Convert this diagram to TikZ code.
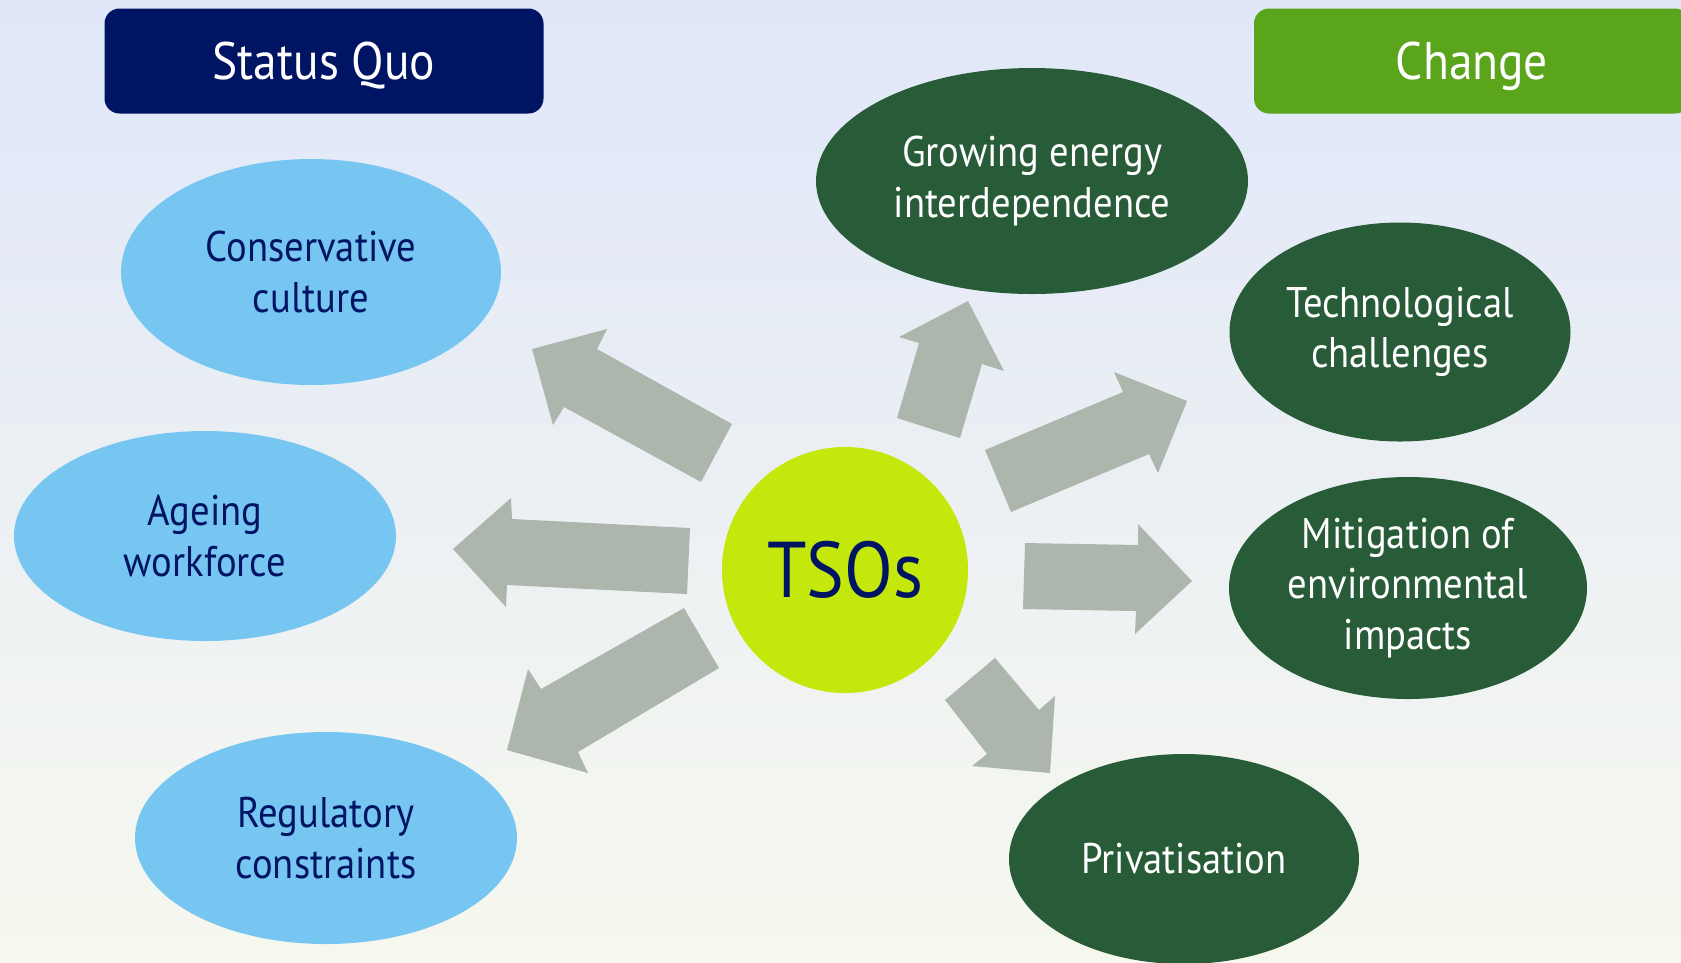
\documentclass[tikz,border=0pt]{standalone}
\usepackage{fontspec}
\setmainfont{PT Sans}[FakeStretch=0.9]
\usetikzlibrary{shapes.geometric}
\definecolor{navy}{HTML}{001464}
\definecolor{skyblue}{HTML}{77C6F1}
\definecolor{forest}{HTML}{285B38}
\definecolor{leaf}{HTML}{5AA51B}
\definecolor{lime}{HTML}{C4E80B}
\definecolor{arrowgray}{HTML}{ADB6AD}
\definecolor{bgtop}{HTML}{E0E7F9}
\definecolor{bgmid}{HTML}{EAF6FE}
\definecolor{bgbot}{HTML}{F6F8EE}
\begin{document}
\begin{tikzpicture}
            [x=0.1mm,y=-0.1mm,
             Blob/.style={ellipse,inner sep=0pt,align=center,font=\fontsize{12.2}{14.4}\selectfont},
             Quo/.style={Blob,fill=skyblue,text=navy},
             Chg/.style={Blob,fill=forest,text=white},
             Title/.style={rounded corners=1.5mm,text=white,minimum height=10.5mm,text height=10.5pt,text depth=0pt,font=\fontsize{15}{18}\selectfont},
             Arrow/.style={fill=arrowgray}];
            % background
            \useasboundingbox (0,0) rectangle (1681,962);
            \shade[top color=bgtop,middle color=bgmid,bottom color=bgbot] (0,0) rectangle (1681,962);
            % headings
            \node[Title,fill=navy,minimum width=43.9mm] (quo) at (324,61){Status Quo};
            \node[Title,fill=leaf,minimum width=43.6mm] (chg) at (1472,61){Change};
            % status quo side
            \node[Quo,minimum width=38mm,minimum height=22.6mm] (cons) at (311,272){Conservative\\culture};
            \node[Quo,minimum width=38.2mm,minimum height=21mm] (age) at (205,536){Ageing\\workforce};
            \node[Quo,minimum width=38.2mm,minimum height=21.2mm] (reg) at (326,838){Regulatory\\constraints};
            % change side
            \node[Chg,minimum width=43.2mm,minimum height=22.6mm] (grow) at (1032,181){Growing energy\\interdependence};
            \node[Chg,minimum width=34.1mm,minimum height=21.9mm] (tech) at (1400,332){Technological\\challenges};
            \node[Chg,minimum width=35.8mm,minimum height=22.2mm] (mitig) at (1408,588){Mitigation of\\environmental\\impacts};
            \node[Chg,minimum width=35mm,minimum height=21mm] (priv) at (1184,859){Privatisation};
            % centre
            \node[circle,fill=lime,minimum size=24.6mm,inner sep=0pt,text=navy,font=\fontsize{22.5}{26}\selectfont] (tso) at (845,570){TSOs};
            % arrows
            \fill[Arrow] (732,424) -- (597,349) -- (607,329) -- (532,349) -- (553,425) -- (564,407) -- (701,482) -- cycle;
            \fill[Arrow] (690,528) -- (512,519) -- (511,498) -- (453,549) -- (506,607) -- (507,585) -- (687,594) -- cycle;
            \fill[Arrow] (684,608) -- (541,689) -- (528,669) -- (507,750) -- (588,773) -- (578,752) -- (719,668) -- cycle;
            \fill[Arrow] (897,418) -- (919,343) -- (899,337) -- (968,301) -- (1004,371) -- (982,364) -- (960,438) -- cycle;
            \fill[Arrow] (985,450) -- (1123,392) -- (1114,372) -- (1187,401) -- (1158,473) -- (1149,454) -- (1011,512) -- cycle;
            \fill[Arrow] (1025,543) -- (1138,545) -- (1138,524) -- (1192,581) -- (1135,634) -- (1136,611) -- (1023,609) -- cycle;
            \fill[Arrow] (945,700) -- (995,658) -- (1039,710) -- (1055,696) -- (1050,773) -- (972,766) -- (987,754) -- cycle;
        \end{tikzpicture}
\end{document}
